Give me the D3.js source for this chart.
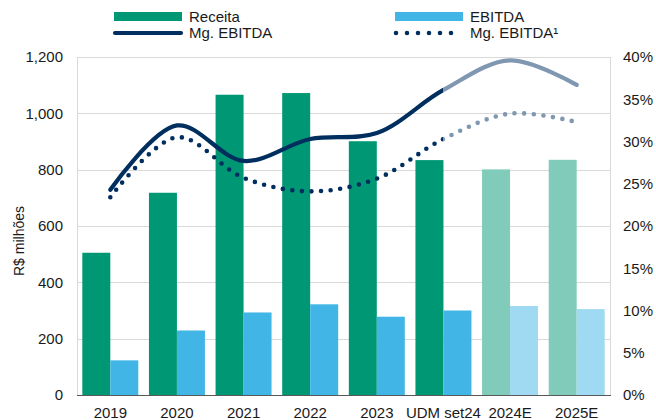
<!DOCTYPE html>
<html>
<head>
<meta charset="utf-8">
<script src="https://cdn.jsdelivr.net/npm/d3@7"></script>
<style>
  body { margin:0; background:#fff; }
  text { font-family:"Liberation Sans", Arial, sans-serif; fill:#1a1a1a; }
</style>
</head>
<body>
<svg id="chart" width="656" height="420"></svg>
<script>
// chart data
// ----------
var categories = ["2019","2020","2021","2022","2023","UDM set24","2024E","2025E"];
var projected  = [false,false,false,false,false,false,true,true];
var receita    = [505,718,1066,1072,901,834,801,835];
var ebitda     = [123,229,293,322,278,300,316,305];
var mgEbitda   = [0.243,0.319,0.277,0.303,0.310,0.361,0.396,0.367];
var mgEbitda1  = [0.234,0.305,0.257,0.241,0.256,0.303,0.333,0.323];
var leftTicks  = [0,200,400,600,800,1000,1200];
var rightTicks = [0,0.05,0.10,0.15,0.20,0.25,0.30,0.35,0.40];
var seriesNames = ["Receita","EBITDA","Mg. EBITDA","Mg. EBITDA\u00b9"];

var cGreen = "#009874", cBlue = "#41b6e6";
var cGreenL = "#80cbb9", cBlueL = "#a0d9f2";
var cNavy = "#002f5f", cNavyL = "#7f97b1";

var W = 656, H = 420;
var pLeft = 77, pRight = 610, pTop = 57, pBottom = 395;

var svg = d3.select("#chart");

// scales
// ------
var x = d3.scaleBand().domain(categories).range([pLeft,pRight]).padding(0);
var x1 = d3.scaleBand().domain(["r","e"]).range([0,x.bandwidth()]).paddingInner(0).paddingOuter(0.19);
var y = d3.scaleLinear().domain([0,1200]).range([pBottom,pTop]);
var y2 = d3.scaleLinear().domain([0,0.40]).range([pBottom,pTop]);

// grid lines + frame
// ------------------
svg.append("g").selectAll("line").data(leftTicks.slice(1)).enter().append("line")
	.attr("x1",pLeft).attr("x2",pRight)
	.attr("y1",function(d){return Math.round(y(d))+0.5;})
	.attr("y2",function(d){return Math.round(y(d))+0.5;})
	.attr("style","stroke:#d9d9d9;stroke-width:1");
svg.append("line").attr("x1",pLeft+0.5).attr("x2",pLeft+0.5).attr("y1",pTop).attr("y2",pBottom)
	.attr("style","stroke:#d9d9d9;stroke-width:1");
svg.append("line").attr("x1",pRight+0.5).attr("x2",pRight+0.5).attr("y1",pTop).attr("y2",pBottom)
	.attr("style","stroke:#d9d9d9;stroke-width:1");

// bars
// ----
var groups = svg.append("g").selectAll("g").data(categories).enter().append("g")
	.attr("transform",function(d){return "translate("+x(d)+",0)";});

groups.append("rect")
	.attr("x",x1("r")).attr("width",x1.bandwidth())
	.attr("y",function(d,i){return y(receita[i]);})
	.attr("height",function(d,i){return y(0)-y(receita[i]);})
	.attr("fill",function(d,i){return projected[i]?cGreenL:cGreen;});

groups.append("rect")
	.attr("x",x1("e")).attr("width",x1.bandwidth())
	.attr("y",function(d,i){return y(ebitda[i]);})
	.attr("height",function(d,i){return y(0)-y(ebitda[i]);})
	.attr("fill",function(d,i){return projected[i]?cBlueL:cBlue;});

// x axis line
svg.append("line").attr("x1",pLeft).attr("x2",pRight+1).attr("y1",pBottom+0.5).attr("y2",pBottom+0.5)
	.attr("style","stroke:#595959;stroke-width:1");

// margin lines, split in actual / projected part by clipping at UDM
// -----------------------------------------------------------------
var splitX = x("UDM set24") + x.bandwidth()/2;
var defs = svg.append("defs");
defs.append("clipPath").attr("id","clipA").append("rect")
	.attr("x",0).attr("y",0).attr("width",splitX).attr("height",H);
defs.append("clipPath").attr("id","clipB").append("rect")
	.attr("x",splitX).attr("y",0).attr("width",W-splitX).attr("height",H);

var line = d3.line()
	.x(function(d,i){return x(categories[i])+x.bandwidth()/2;})
	.y(function(d){return y2(d);})
	.curve(d3.curveCatmullRom.alpha(0.5));

function drawMargin(values, dotted){
	[["clipA",cNavy],["clipB",cNavyL]].forEach(function(p){
		var path = svg.append("path")
			.attr("d",line(values))
			.attr("clip-path","url(#"+p[0]+")")
			.attr("fill","none")
			.attr("stroke",p[1])
			.attr("stroke-linecap","round");
		if (dotted){
			path.attr("stroke-width",4.6).attr("stroke-dasharray","0 9.6");
		} else {
			path.attr("stroke-width",4.2);
		}
	});
}
drawMargin(mgEbitda1,true);
drawMargin(mgEbitda,false);

// axes labels
// -----------
svg.append("g").selectAll("text").data(leftTicks).enter().append("text")
	.attr("x",63).attr("y",function(d){return y(d)+5.3;})
	.attr("text-anchor","end").style("font-size","15px")
	.text(d3.format(","));

svg.append("g").selectAll("text").data(rightTicks).enter().append("text")
	.attr("x",623).attr("y",function(d){return y2(d)+5.3;})
	.style("font-size","15px")
	.text(d3.format(".0%"));

svg.append("g").selectAll("text").data(categories).enter().append("text")
	.attr("x",function(d){return x(d)+x.bandwidth()/2;}).attr("y",418)
	.attr("text-anchor","middle").style("font-size","15px")
	.text(function(d){return d;});

svg.append("text")
	.attr("transform","translate(24,241) rotate(-90)")
	.attr("text-anchor","middle").style("font-size","14px")
	.text("R$ milh\u00f5es");

// legend
// ------
var lg = svg.append("g");
lg.append("rect").attr("x",114).attr("y",12).attr("width",68).attr("height",9).attr("fill",cGreen);
lg.append("text").attr("x",189).attr("y",21.5).style("font-size","15px").text(seriesNames[0]);
lg.append("rect").attr("x",395).attr("y",12).attr("width",68).attr("height",9).attr("fill",cBlue);
lg.append("text").attr("x",470).attr("y",21.5).style("font-size","15px").text(seriesNames[1]);
lg.append("line").attr("x1",115).attr("x2",181).attr("y1",33).attr("y2",33)
	.attr("stroke",cNavy).attr("stroke-width",4.2).attr("stroke-linecap","round");
lg.append("text").attr("x",189).attr("y",38).style("font-size","15px").text(seriesNames[2]);
lg.append("line").attr("x1",396).attr("x2",462).attr("y1",33).attr("y2",33)
	.attr("stroke",cNavy).attr("stroke-width",4.6).attr("stroke-linecap","round")
	.attr("stroke-dasharray","0 11");
lg.append("text").attr("x",470).attr("y",38).style("font-size","15px").text(seriesNames[3]);
</script>
</body>
</html>
